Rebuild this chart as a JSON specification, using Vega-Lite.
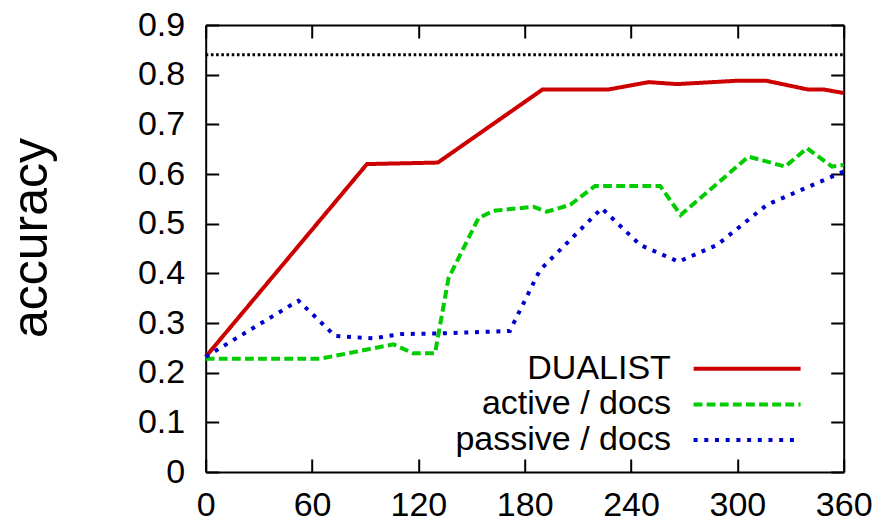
{
  "$schema": "https://vega.github.io/schema/vega-lite/v6.json",
  "width": 638,
  "height": 447,
  "autosize": {"type": "none"},
  "padding": {"left": 205.7, "top": 25, "right": 40.3, "bottom": 52},
  "background": "white",
  "config": {
    "view": {"stroke": null},
    "font": "Liberation Sans",
    "axis": {
      "grid": false,
      "domainColor": "black",
      "domainWidth": 2,
      "tickColor": "black",
      "tickWidth": 2,
      "tickSize": -13,
      "labelFlush": false,
      "labelColor": "black",
      "labelFont": "Liberation Sans",
      "labelFontSize": 34
    },
    "legend": {
      "title": null,
      "orient": "none",
      "legendX": 524.4,
      "legendY": 326.7,
      "padding": 0,
      "symbolType": "M-5,0H5",
      "symbolSize": 458,
      "symbolStrokeWidth": 4,
      "labelFont": "Liberation Sans",
      "labelFontSize": 34,
      "labelColor": "black",
      "labelAlign": "right",
      "labelOffset": -93.2,
      "labelLimit": 0,
      "rowPadding": 1.7
    }
  },
  "datasets": {
    "runs": [
      {"series": "DUALIST", "time": 0, "accuracy": 0.232},
      {"series": "DUALIST", "time": 91, "accuracy": 0.62},
      {"series": "DUALIST", "time": 131, "accuracy": 0.623},
      {"series": "DUALIST", "time": 190, "accuracy": 0.77},
      {"series": "DUALIST", "time": 227, "accuracy": 0.77},
      {"series": "DUALIST", "time": 250, "accuracy": 0.785},
      {"series": "DUALIST", "time": 266, "accuracy": 0.781},
      {"series": "DUALIST", "time": 301, "accuracy": 0.788},
      {"series": "DUALIST", "time": 316, "accuracy": 0.788},
      {"series": "DUALIST", "time": 340, "accuracy": 0.77},
      {"series": "DUALIST", "time": 349, "accuracy": 0.77},
      {"series": "DUALIST", "time": 360, "accuracy": 0.763},
      {"series": "active / docs", "time": 0, "accuracy": 0.228},
      {"series": "active / docs", "time": 64.5, "accuracy": 0.228},
      {"series": "active / docs", "time": 106, "accuracy": 0.257},
      {"series": "active / docs", "time": 117, "accuracy": 0.239},
      {"series": "active / docs", "time": 129.4, "accuracy": 0.239},
      {"series": "active / docs", "time": 137, "accuracy": 0.39},
      {"series": "active / docs", "time": 153.9, "accuracy": 0.511},
      {"series": "active / docs", "time": 162.4, "accuracy": 0.526},
      {"series": "active / docs", "time": 185, "accuracy": 0.534},
      {"series": "active / docs", "time": 192.5, "accuracy": 0.524},
      {"series": "active / docs", "time": 205.7, "accuracy": 0.538},
      {"series": "active / docs", "time": 219.7, "accuracy": 0.576},
      {"series": "active / docs", "time": 256.4, "accuracy": 0.576},
      {"series": "active / docs", "time": 268, "accuracy": 0.5175},
      {"series": "active / docs", "time": 306.3, "accuracy": 0.635},
      {"series": "active / docs", "time": 327, "accuracy": 0.615},
      {"series": "active / docs", "time": 339.3, "accuracy": 0.652},
      {"series": "active / docs", "time": 353.4, "accuracy": 0.615},
      {"series": "active / docs", "time": 360, "accuracy": 0.618},
      {"series": "passive / docs", "time": 0, "accuracy": 0.232},
      {"series": "passive / docs", "time": 52.3, "accuracy": 0.345},
      {"series": "passive / docs", "time": 73, "accuracy": 0.274},
      {"series": "passive / docs", "time": 94.7, "accuracy": 0.269},
      {"series": "passive / docs", "time": 109.8, "accuracy": 0.2776},
      {"series": "passive / docs", "time": 132.2, "accuracy": 0.279},
      {"series": "passive / docs", "time": 171.6, "accuracy": 0.284},
      {"series": "passive / docs", "time": 188.6, "accuracy": 0.4066},
      {"series": "passive / docs", "time": 223.5, "accuracy": 0.531},
      {"series": "passive / docs", "time": 245.2, "accuracy": 0.457},
      {"series": "passive / docs", "time": 266.8, "accuracy": 0.4234},
      {"series": "passive / docs", "time": 288.5, "accuracy": 0.457},
      {"series": "passive / docs", "time": 316.7, "accuracy": 0.538},
      {"series": "passive / docs", "time": 360, "accuracy": 0.605}
    ],
    "ceiling": [{"accuracy": 0.84}]
  },
  "layer": [
    {
      "data": {"name": "ceiling"},
      "mark": {"type": "rule", "color": "black", "strokeWidth": 3, "strokeDash": [2.6, 2.6]},
      "encoding": {
        "x": {
          "datum": 0,
          "type": "quantitative",
          "scale": {"domain": [0, 360], "nice": false},
          "axis": {"orient": "top", "labels": false, "title": null, "values": [0, 60, 120, 180, 240, 300, 360]}
        },
        "x2": {"datum": 360},
        "y": {
          "field": "accuracy",
          "type": "quantitative",
          "scale": {"domain": [0, 0.9], "nice": false, "zero": true},
          "axis": {"orient": "right", "labels": false, "title": null, "values": [0, 0.1, 0.2, 0.3, 0.4, 0.5, 0.6, 0.7, 0.8, 0.9]}
        }
      }
    },
    {
      "data": {"name": "runs"},
      "mark": {"type": "line", "strokeWidth": 4, "strokeCap": "butt"},
      "encoding": {
        "x": {
          "field": "time",
          "type": "quantitative",
          "scale": {"domain": [0, 360], "nice": false},
          "axis": {"orient": "bottom", "title": null, "labelPadding": 29, "values": [0, 60, 120, 180, 240, 300, 360]}
        },
        "y": {
          "field": "accuracy",
          "type": "quantitative",
          "scale": {"domain": [0, 0.9], "nice": false, "zero": true},
          "axis": {
            "orient": "left",
            "title": "accuracy",
            "titleFont": "Liberation Sans",
            "titleFontSize": 50,
            "titleFontWeight": "normal",
            "titleColor": "black",
            "titleAngle": -90,
            "titleAlign": "center",
            "titleBaseline": "alphabetic",
            "titleX": -159,
            "titleY": 212.5,
            "labelPadding": 34,
            "format": ".1~f",
            "values": [0, 0.1, 0.2, 0.3, 0.4, 0.5, 0.6, 0.7, 0.8, 0.9]
          }
        },
        "color": {
          "field": "series",
          "type": "nominal",
          "scale": {
            "domain": ["DUALIST", "active / docs", "passive / docs"],
            "range": ["#cc0000", "#00cc00", "#0000cc"]
          }
        },
        "strokeDash": {
          "field": "series",
          "type": "nominal",
          "scale": {
            "domain": ["DUALIST", "active / docs", "passive / docs"],
            "range": [[1, 0], [8.8, 4.3], [4, 6.7]]
          }
        }
      }
    }
  ],
  "resolve": {"axis": {"x": "independent", "y": "independent"}}
}
